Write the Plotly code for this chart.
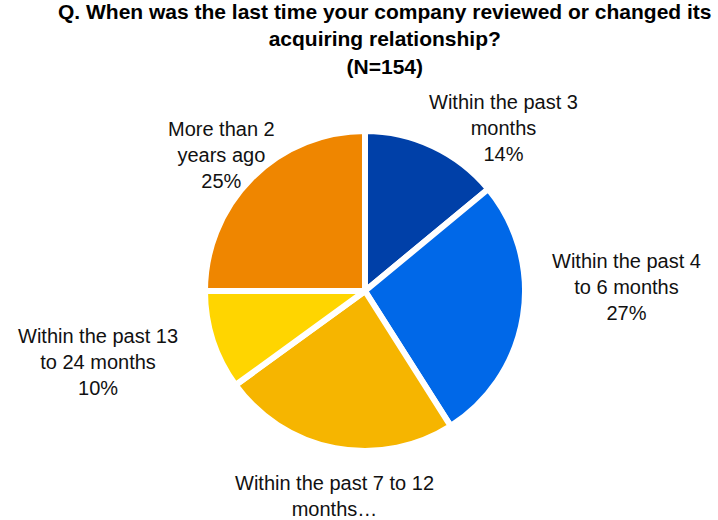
import plotly.graph_objects as go

# Survey responses: time since the acquiring relationship was last reviewed/changed
categories = [
    "Within the past 3 months",
    "Within the past 4 to 6 months",
    "Within the past 7 to 12 months",
    "Within the past 13 to 24 months",
    "More than 2 years ago",
]
values = [14, 27, 24, 10, 25]
colors = ["#0040A8", "#0068E8", "#F6B500", "#FFD500", "#EF8600"]

# Wrapped label text as shown beside each slice
label_lines = [
    ["Within the past 3", "months"],
    ["Within the past 4", "to 6 months"],
    ["Within the past 7 to 12", "months…"],
    ["Within the past 13", "to 24 months"],
    ["More than 2", "years ago"],
]
show_pct = [True, True, False, True, True]

# Label centres in pixels (x, y of middle of text block)
label_pos = [(503, 128), (626, 287), (334, 496), (98, 362), (221, 155)]

W, H = 718, 520
font_family = "Liberation Sans, Arial, sans-serif"

fig = go.Figure(
    go.Pie(
        labels=categories,
        values=values,
        sort=False,
        direction="clockwise",
        rotation=0,
        marker=dict(colors=colors, line=dict(color="white", width=6)),
        textinfo="none",
        hoverinfo="label+percent",
        showlegend=False,
        domain=dict(x=[205 / W, 525 / W], y=[(H - 451) / H, (H - 131) / H]),
    )
)

annotations = []
for lines, v, show, (px, py) in zip(label_lines, values, show_pct, label_pos):
    text_lines = list(lines)
    if show:
        text_lines.append(f"{v}%")
    annotations.append(
        dict(
            text="<br>".join(text_lines),
            x=px / W,
            y=1 - py / H,
            xref="paper",
            yref="paper",
            xanchor="center",
            yanchor="middle",
            showarrow=False,
            align="center",
            font=dict(family=font_family, size=20, color="#111111"),
        )
    )

annotations.append(
    dict(
        text="<b>Q. When was the last time your company reviewed or changed its<br>"
        "acquiring relationship?<br>(N=154)</b>",
        x=385 / W,
        y=1 - 39 / H,
        xref="paper",
        yref="paper",
        xanchor="center",
        yanchor="middle",
        showarrow=False,
        align="center",
        font=dict(family=font_family, size=21, color="#000000"),
    )
)

fig.update_layout(
    width=W,
    height=H,
    margin=dict(l=0, r=0, t=0, b=0),
    paper_bgcolor="white",
    plot_bgcolor="white",
    annotations=annotations,
)

fig.write_html("out.html")
